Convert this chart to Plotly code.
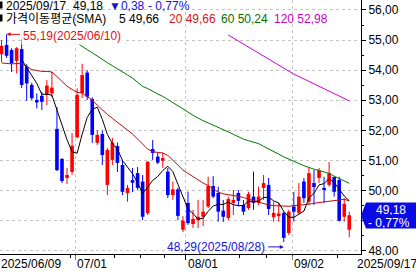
import plotly.graph_objects as go

# ---------------- data ----------------
opens = [54.53, 54.84, 54.67, 54.31, 54.70, 54.12, 53.51, 53.01, 53.15, 53.18,
         53.23, 52.05, 51.05, 50.42, 50.62, 51.77, 53.24, 53.92, 53.04, 51.59,
         51.88, 50.19, 51.02, 51.48, 50.85, 49.92, 50.35, 50.58, 50.30, 49.25,
         51.38, 51.13, 50.99, 50.63, 49.85, 50.04, 48.70, 49.59, 48.89, 49.02,
         49.13, 49.47, 50.15, 49.92, 49.33, 49.09, 49.59, 49.92, 49.52, 49.42,
         49.80, 49.59, 50.09, 50.19, 49.12, 49.15, 49.26, 48.59, 49.47, 49.26,
         50.30, 49.63, 50.25, 50.42, 50.09, 50.19, 50.45, 50.35, 49.13, 48.70]
highs = [55.00, 55.19, 54.73, 54.77, 55.04, 54.20, 53.58, 53.23, 53.28, 53.67,
         53.95, 52.78, 51.08, 50.75, 51.91, 53.40, 54.21, 54.00, 53.10, 52.01,
         52.00, 51.42, 51.75, 51.60, 51.02, 50.19, 50.75, 50.78, 50.52, 50.98,
         51.68, 51.25, 51.26, 50.75, 50.30, 50.10, 49.15, 49.96, 49.36, 49.69,
         49.69, 50.46, 50.48, 50.13, 49.69, 49.80, 50.02, 50.02, 49.69, 49.96,
         50.63, 50.13, 50.52, 50.42, 49.63, 49.59, 49.30, 49.36, 49.96, 50.25,
         50.42, 50.75, 50.68, 50.75, 50.46, 50.95, 50.46, 50.46, 49.75, 49.30]
lows = [54.27, 54.41, 53.94, 53.90, 53.41, 52.98, 53.01, 52.73, 52.68, 52.84,
        53.11, 50.65, 50.25, 50.22, 50.52, 51.74, 53.08, 53.01, 51.58, 51.51,
        50.85, 49.85, 50.85, 50.62, 49.85, 49.63, 49.95, 50.02, 49.02, 49.19,
        51.02, 50.88, 50.75, 49.75, 49.69, 49.02, 48.62, 48.86, 48.76, 48.76,
        48.82, 49.42, 49.75, 48.97, 48.96, 49.02, 49.19, 49.47, 49.19, 49.36,
        49.36, 49.52, 49.69, 49.19, 48.97, 48.97, 48.29, 48.52, 48.97, 49.19,
        49.59, 49.52, 49.52, 50.25, 49.59, 50.13, 49.80, 48.97, 48.97, 48.45]
closes = [54.81, 54.48, 54.23, 54.73, 53.51, 53.56, 53.07, 52.93, 52.95, 53.49,
          53.42, 50.68, 50.32, 50.52, 51.49, 53.18, 53.84, 53.12, 51.85, 51.85,
          51.18, 51.35, 51.59, 50.92, 49.96, 50.09, 50.26, 50.09, 49.13, 50.96,
          51.25, 50.93, 51.08, 49.85, 50.04, 49.16, 49.00, 48.92, 49.06, 49.13,
          49.30, 50.15, 49.80, 49.30, 49.13, 49.72, 49.69, 49.66, 49.30, 49.89,
          49.59, 49.80, 50.25, 49.39, 49.26, 49.24, 48.43, 49.30, 49.30, 49.80,
          49.75, 50.58, 50.12, 50.68, 50.02, 50.58, 49.96, 49.00, 49.56, 49.18]

ma5 = [None] * 4 + [
    54.35, 54.10, 53.82, 53.56, 53.20, 53.20, 53.17, 52.69, 52.17, 51.69,
    51.29, 51.24, 51.87, 52.43, 52.70, 52.77, 52.37, 51.87, 51.56, 51.38,
    51.00, 50.78, 50.56, 50.26, 49.91, 50.11, 50.34, 50.47, 50.67, 50.81,
    50.63, 50.21, 49.83, 49.39, 49.24, 49.05, 49.08, 49.31, 49.49, 49.54,
    49.54, 49.62, 49.53, 49.50, 49.50, 49.65, 49.63, 49.65, 49.77, 49.78,
    49.66, 49.59, 49.31, 49.12, 49.11, 49.21, 49.32, 49.75, 49.91, 50.19,
    50.23, 50.40, 50.27, 50.05, 49.82, 49.66]
ma20 = [54.24, 54.22, 54.21, 54.22, 54.22, 54.12, 54.02, 53.99, 53.96, 53.96,
        53.94, 53.79, 53.64, 53.47, 53.36, 53.27, 53.24, 53.12, 53.01, 52.84,
        52.68, 52.53, 52.40, 52.28, 52.15, 52.01, 51.88, 51.71, 51.55, 51.38,
        51.29, 51.26, 51.25, 51.17, 51.02, 50.85, 50.68, 50.57, 50.46, 50.35,
        50.25, 50.17, 50.05, 49.95, 49.89, 49.87, 49.85, 49.81, 49.77, 49.72,
        49.67, 49.62, 49.57, 49.52, 49.50, 49.49, 49.47, 49.48, 49.50, 49.51,
        49.53, 49.55, 49.58, 49.60, 49.63, 49.65, 49.68, 49.70, 49.71, 49.66]
ma60 = [None] * 14 + [
    55.02, 54.90, 54.79, 54.68, 54.58, 54.46, 54.35, 54.25, 54.15, 54.04,
    53.94, 53.84, 53.74, 53.59, 53.46, 53.39, 53.29, 53.21, 53.13, 53.03,
    52.93, 52.83, 52.72, 52.61, 52.50, 52.40, 52.32, 52.25, 52.18, 52.10,
    52.02, 51.95, 51.87, 51.79, 51.71, 51.66, 51.61, 51.56, 51.47, 51.39,
    51.30, 51.21, 51.12, 51.04, 50.97, 50.90, 50.83, 50.76, 50.71, 50.67,
    50.62, 50.57, 50.48, 50.40, 50.32, 50.24]
ma120 = [None] * 45 + [
    55.17, 55.07, 54.97, 54.87, 54.76, 54.66, 54.56, 54.46, 54.36, 54.26,
    54.16, 54.06, 53.96, 53.87, 53.79, 53.71, 53.63, 53.55, 53.47, 53.39,
    53.31, 53.23, 53.15, 53.07, 52.98]

y_ticks = [48, 49, 50, 51, 52, 53, 54, 55, 56]
y_tick_text = ["48,00", "", "50,00", "51,00", "52,00", "53,00", "54,00", "55,00", "56,00"]
y_minor = [48.5, 49.5, 50.5, 51.5, 52.5, 53.5, 54.5, 55.5]
month_ticks = [14.58, 36.6, 57.64]          # 07/01, 08/01, 09/02 grid positions
week_ticks = [13.6, 22.5, 27.5, 32.4, 47.3, 52.5, 66.6]
date_labels = ["2025/06/09", "07/01", "08/01", "09/02", "2025/09/17"]
date_label_px = [0, 76, 187, 293, 356]

header1 = [("2025/09/17", "#000000", 5), ("49,18", "#000000", 72),
           ("▼0,38", "#1414D2", 108), ("- 0,77%", "#1414D2", 147)]
header2 = [("가격이동평균(SMA)", "#000000", 5), ("5 49,66", "#000000", 118),
           ("20 49,66", "#D21414", 168), ("60 50,24", "#006E00", 220),
           ("120 52,98", "#C800C8", 273)]

hi_label = "55,19(2025/06/10)"
lo_label = "48,29(2025/08/28)"
last_price = "49,18"
last_change = "- 0,77%"

# ---------------- figure ----------------
W, H = 416, 276
PW, PH = 361, 254          # plot area in pixels
idx = list(range(len(closes)))
XR = [-0.3, -0.3 + PW / 5.04]
YR = [56.332 - PH / 30.1, 56.332]

FONT = "Liberation Sans, Arial, Noto Sans CJK KR, sans-serif"
RED, BLUE = "#FF0000", "#0000FF"


def px(x):
    return x / PW


def py(y):
    return (PH - y) / PH


fig = go.Figure()

# wicks
for up, col in ((True, RED), (False, BLUE)):
    xs, ys = [], []
    for i in idx:
        if (closes[i] >= opens[i]) == up:
            xs += [i, i, None]
            ys += [lows[i], highs[i], None]
    fig.add_trace(go.Scatter(x=xs, y=ys, mode="lines",
                             line=dict(color=col, width=1), hoverinfo="skip"))

# bodies
for up, col in ((True, RED), (False, BLUE)):
    xs, base, hgt = [], [], []
    for i in idx:
        if (closes[i] >= opens[i]) == up:
            xs.append(i)
            lo_b = min(opens[i], closes[i])
            hi_b = max(opens[i], closes[i])
            base.append(lo_b)
            hgt.append(max(hi_b - lo_b, 0.04))
    fig.add_trace(go.Bar(x=xs, y=hgt, base=base, width=0.72,
                         marker=dict(color=col, line=dict(width=0))))

for vals, col in ((ma120, "#D200D2"), (ma60, "#007800"), (ma20, "#C00A0A"), (ma5, "#000000")):
    fig.add_trace(go.Scatter(x=idx, y=vals, mode="lines",
                             line=dict(color=col, width=1), connectgaps=False))

shapes = []
# header background
shapes.append(dict(type="rect", xref="paper", yref="paper", x0=px(0), x1=px(195),
                   y0=py(12), y1=py(0), fillcolor="white", line=dict(width=0),
                   layer="between"))
# small black markers in header
for yy in (1.5, 14.5):
    shapes.append(dict(type="rect", xref="paper", yref="paper", x0=px(0), x1=px(2.5),
                       y0=py(yy + 7), y1=py(yy), fillcolor="black", line=dict(width=0)))
# last price box
path = "M {},{} L {},{} L {},{} L {},{} L {},{} Z".format(
    px(361), py(215.5), px(366), py(202.5), px(416), py(202.5),
    px(416), py(228.5), px(366), py(228.5))
shapes.append(dict(type="path", xref="paper", yref="paper", path=path,
                   fillcolor="#0A0AE6", line=dict(width=0), layer="above"))

ann = []
for text, col, x0 in header1:
    ann.append(dict(text=text, x=px(x0 - 1), y=py(6.5), xref="paper", yref="paper",
                    xanchor="left", yanchor="middle", showarrow=False,
                    font=dict(family=FONT, size=12, color=col)))
for text, col, x0 in header2:
    ann.append(dict(text=text, x=px(x0 - 1), y=py(19.5), xref="paper", yref="paper",
                    xanchor="left", yanchor="middle", showarrow=False,
                    font=dict(family=FONT, size=12, color=col)))
for text, x0 in zip(date_labels, date_label_px):
    ann.append(dict(text=text, x=px(x0 - 1), y=py(264), xref="paper", yref="paper",
                    xanchor="left", yanchor="middle", showarrow=False, bgcolor="white",
                    font=dict(family=FONT, size=12, color="black")))

# high marker
hi_i = highs.index(max(highs))
ann.append(dict(x=hi_i, y=max(highs), xref="x", yref="y", text="", showarrow=True,
                ax=15, ay=0, arrowhead=2, arrowsize=0.8, arrowwidth=1, arrowcolor="#E01010"))
ann.append(dict(x=px(20.5), y=max(highs), xref="paper", yref="y", text=hi_label,
                xanchor="left", yanchor="middle", showarrow=False, yshift=-1.5,
                bgcolor="white", font=dict(family=FONT, size=12, color="#E01010")))
# low marker
lo_i = lows.index(min(lows))
lo_y = min(lows) - 0.16
ann.append(dict(x=lo_i, y=lo_y, xref="x", yref="y", text="", showarrow=True,
                ax=-17, ay=0, arrowhead=2, arrowsize=0.8, arrowwidth=1, arrowcolor="#1414D2"))
ann.append(dict(x=px(267), y=lo_y, xref="paper", yref="y", text=lo_label,
                xanchor="right", yanchor="middle", showarrow=False,
                font=dict(family=FONT, size=12, color="#1414D2")))
# last price box texts
ann.append(dict(text=last_price, x=px(391), y=py(209.5), xref="paper", yref="paper",
                xanchor="center", yanchor="middle", showarrow=False,
                height=11, borderpad=0,
                font=dict(family=FONT, size=12, color="white")))
ann.append(dict(text=last_change, x=px(389), y=py(222), xref="paper", yref="paper",
                xanchor="center", yanchor="middle", showarrow=False,
                height=11, borderpad=0,
                font=dict(family=FONT, size=12, color="white")))

fig.update_layout(
    width=W, height=H, margin=dict(l=0, r=W - PW, t=0, b=H - PH),
    paper_bgcolor="white", plot_bgcolor="white", showlegend=False,
    barmode="overlay", shapes=shapes, annotations=ann,
    font=dict(family=FONT, size=12, color="black"),
    xaxis=dict(range=XR, showline=True, linecolor="black", linewidth=1,
               tickmode="array", tickvals=month_ticks, ticks="outside", ticklen=5,
               tickcolor="black", showticklabels=False, showgrid=True,
               gridcolor="#C4C4C4", griddash="3px,3px", gridwidth=1, zeroline=False,
               minor=dict(tickmode="array", tickvals=week_ticks, ticks="outside",
                          ticklen=3, tickcolor="black", showgrid=False),
               fixedrange=True),
    yaxis=dict(range=YR, side="right", showline=True, linecolor="black", linewidth=1,
               tickmode="array", tickvals=y_ticks, ticktext=y_tick_text,
               ticks="outside", ticklen=4, tickcolor="black",
               showgrid=True, gridcolor="#C4C4C4", griddash="3px,3px", gridwidth=1,
               zeroline=False, tickfont=dict(family=FONT, size=12, color="black"),
               minor=dict(tickmode="array", tickvals=y_minor, ticks="outside",
                          ticklen=2, tickcolor="black", showgrid=False),
               fixedrange=True),
)

fig.write_html("out.html", config={"displayModeBar": False})
